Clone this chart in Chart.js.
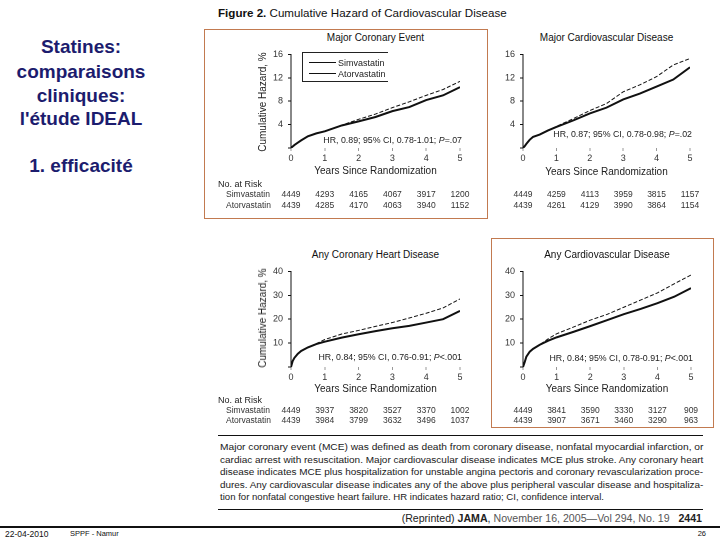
<!DOCTYPE html>
<html><head><meta charset="utf-8">
<script src="https://cdn.jsdelivr.net/npm/chart.js@4.4.1/dist/chart.umd.min.js"></script>
<style>
html,body{margin:0;padding:0;background:#fff;}
body{width:720px;height:540px;position:relative;overflow:hidden;font-family:"Liberation Sans",Arial,sans-serif;color:#222;}
.t{position:absolute;white-space:nowrap;line-height:1;}
canvas{position:absolute;}
.box{position:absolute;border:1.5px solid #c27a50;box-sizing:border-box;}
.rule{position:absolute;background:#111;}
</style></head><body>
<script>
// ---------- data ----------
const years = [0,0.05,0.1,0.2,0.3,0.5,0.75,1,1.5,2,2.5,3,3.5,4,4.5,5];
const xTicks = [0,1,2,3,4,5];

const mceSim  = [0,0.25,0.5,0.9,1.3,2.0,2.5,2.9,3.9,4.9,5.8,6.9,7.9,9.0,10.0,11.4];
const mceAtor = [0,0.25,0.5,0.9,1.3,2.0,2.5,2.85,3.85,4.55,5.3,6.3,7.0,8.2,9.0,10.4];

const mcvdSim  = [0,0.3,0.7,1.4,1.9,2.3,3.0,3.7,5.0,6.4,7.6,9.6,10.8,12.2,14.2,15.3];
const mcvdAtor = [0,0.3,0.7,1.4,1.9,2.3,3.0,3.6,4.7,5.9,6.9,8.3,9.3,10.5,11.7,13.8];

const chdSim  = [0,2.5,3.8,5.5,6.7,8.2,9.8,11.5,13.8,15.3,17.0,18.6,20.5,22.5,24.7,28.5];
const chdAtor = [0,2.5,3.8,5.5,6.7,8.2,9.6,10.6,12.3,13.7,15.0,16.2,17.2,18.6,20.0,23.5];

const cvdSim  = [0,2.0,4.3,6.4,7.6,9.4,11.8,13.9,16.7,19.6,22.0,25.0,28.0,31.0,34.8,38.5];
const cvdAtor = [0,2.0,4.3,6.4,7.6,9.3,11.0,12.4,14.7,17.1,19.6,22.1,24.3,26.7,29.4,33.0];

const riskMceSim   = [4449,4293,4165,4067,3917,1200];
const riskMceAtor  = [4439,4285,4170,4063,3940,1152];
const riskMcvdSim  = [4449,4259,4113,3959,3815,1157];
const riskMcvdAtor = [4439,4261,4129,3990,3864,1154];
const riskChdSim   = [4449,3937,3820,3527,3370,1002];
const riskChdAtor  = [4439,3984,3799,3632,3496,1037];
const riskCvdSim   = [4449,3841,3590,3330,3127,909];
const riskCvdAtor  = [4439,3907,3671,3460,3290,963];

const seriesNames = ["Simvastatin","Atorvastatin"];

// ---------- helpers ----------
function txt(s,x,y,o={}){
  const d=document.createElement('div');d.className='t';d.innerHTML=s;
  d.style.left=x+'px';d.style.top=y+'px';d.style.fontSize=(o.size||9)+'px';
  if(o.bold)d.style.fontWeight='bold';
  if(o.color)d.style.color=o.color;
  if(o.font)d.style.fontFamily=o.font;
  const ax=o.align==='left'?'0':o.align==='right'?'-100%':'-50%';
  d.style.transform='translate('+ax+',-50%)'+(o.rot?' rotate('+o.rot+'deg)':'');
  document.body.appendChild(d);return d;
}
function box(l,t,w,h){const d=document.createElement('div');d.className='box';
  d.style.left=l+'px';d.style.top=t+'px';d.style.width=w+'px';d.style.height=h+'px';document.body.appendChild(d);}
function rule(l,t,w,h){const d=document.createElement('div');d.className='rule';
  d.style.left=l+'px';d.style.top=t+'px';d.style.width=w+'px';d.style.height=h+'px';document.body.appendChild(d);}
const pts=(ys)=>years.map((x,i)=>({x:x,y:ys[i]}));

function makeChart(left,top,w,h,yMax,yStep,sim,ator){
  const c=document.createElement('canvas');
  c.width=w;c.height=h;c.style.left=left+'px';c.style.top=top+'px';
  c.style.width=w+'px';c.style.height=h+'px';
  document.body.appendChild(c);
  const tickFont={family:'"Liberation Sans", Arial, sans-serif',size:9};
  return new Chart(c,{
    type:'line',
    data:{datasets:[
      {label:seriesNames[0],data:pts(sim),borderColor:'#111',borderWidth:1,borderDash:[4,2],pointRadius:0,tension:0,fill:false},
      {label:seriesNames[1],data:pts(ator),borderColor:'#111',borderWidth:2,pointRadius:0,tension:0,fill:false}
    ]},
    options:{
      responsive:false,animation:false,devicePixelRatio:2,
      layout:{padding:{left:0,top:10,right:12,bottom:0}},
      plugins:{legend:{display:false},tooltip:{enabled:false},title:{display:false}},
      scales:{
        x:{type:'linear',min:0,max:5,
          afterBuildTicks:(s)=>{s.ticks=xTicks.map(v=>({value:v}));},
          ticks:{font:tickFont,color:'#333',padding:2,maxRotation:0,autoSkip:false},
          grid:{display:true,drawOnChartArea:false,drawTicks:true,tickLength:3,color:'#999'},
          border:{display:false},
          afterFit:(s)=>{s.height=20;}
        },
        y:{min:0,max:yMax,
          ticks:{stepSize:yStep,font:tickFont,color:'#333',padding:5,callback:(v)=>v===0?'':v},
          grid:{display:true,drawOnChartArea:false,drawTicks:true,tickLength:3,color:'#111'},
          border:{display:true,color:'#111',width:1},
          afterFit:(s)=>{s.width=41;}
        }
      }
    }
  });
}

// ---------- left slide text ----------
const navy='#1c1c6e';
[["Statines:",46],["comparaisons",71],["cliniques:",95],["l'étude IDEAL",118],["1. efficacité",165]].forEach(([s,y])=>{
  txt(s,81,y,{size:19,bold:true,color:navy,font:'"Liberation Sans", Arial, sans-serif'});
});

// ---------- figure title ----------
txt('<b>Figure 2.</b> Cumulative Hazard of Cardiovascular Disease',218,13,{size:11.6,align:'left',color:'#111'});

// ---------- boxes ----------
box(204,29,284,190);
box(491,238,223,190);

// ---------- charts ----------
const charts=[
  {l:250,t:44,w:222,h:124,max:16,step:4,sim:mceSim,ator:mceAtor,title:'Major Coronary Event',titleY:38,
   hr:'HR, 0.89; 95% CI, 0.78-1.01; <i>P</i>=.07',hrY:140,xtY:171,riskS:riskMceSim,riskA:riskMceAtor,rowY:[184,194,205],labels:true,ytitleY:102},
  {l:482,t:44,w:220,h:124,max:16,step:4,sim:mcvdSim,ator:mcvdAtor,title:'Major Cardiovascular Disease',titleY:38,
   hr:'HR, 0.87; 95% CI, 0.78-0.98; <i>P</i>=.02',hrY:134,xtY:172,riskS:riskMcvdSim,riskA:riskMcvdAtor,rowY:[184,194,205],labels:false},
  {l:250,t:261,w:222,h:126,max:40,step:10,sim:chdSim,ator:chdAtor,title:'Any Coronary Heart Disease',titleY:255,
   hr:'HR, 0.84; 95% CI, 0.76-0.91; <i>P</i>&lt;.001',hrY:357,xtY:389,riskS:riskChdSim,riskA:riskChdAtor,rowY:[400,410,420],labels:true,ytitleY:318},
  {l:482,t:261,w:221,h:126,max:40,step:10,sim:cvdSim,ator:cvdAtor,title:'Any Cardiovascular Disease',titleY:255,
   hr:'HR, 0.84; 95% CI, 0.78-0.91; <i>P</i>&lt;.001',hrY:358,xtY:389,riskS:riskCvdSim,riskA:riskCvdAtor,rowY:[400,410,420],labels:false}
];
charts.forEach(cf=>{
  const ch=makeChart(cf.l,cf.t,cf.w,cf.h,cf.max,cf.step,cf.sim,cf.ator);
  const a=ch.chartArea;
  const cx=cf.l+(a.left+a.right)/2;
  txt(cf.title,cx,cf.titleY,{size:10,color:'#111'});
  txt('Years Since Randomization',cx,cf.xtY,{size:10,color:'#222'});
  txt(cf.hr,cf.l+a.right+2,cf.hrY,{size:8.8,align:'right',color:'#222'});
  xTicks.forEach((v,i)=>{
    const px=cf.l+ch.scales.x.getPixelForValue(v);
    txt(String(cf.riskS[i]),px,cf.rowY[1],{size:8.5,color:'#333'});
    txt(String(cf.riskA[i]),px,cf.rowY[2],{size:8.5,color:'#333'});
  });
  if(cf.labels){
    txt('No. at Risk',218,cf.rowY[0],{size:9,align:'left',color:'#222'});
    txt(seriesNames[0],226,cf.rowY[1],{size:8.5,align:'left',color:'#333'});
    txt(seriesNames[1],226,cf.rowY[2],{size:8.5,align:'left',color:'#333'});
    txt('Cumulative Hazard, %',263,cf.ytitleY,{size:10,rot:-90,color:'#222'});
  }
});

// ---------- legend (chart 1) ----------
(function(){
  const d=document.createElement('div');
  d.style.cssText='position:absolute;left:302px;top:52px;width:86px;height:30px;border:1px solid #222;border-right:none;box-sizing:border-box;background:#fff;';
  document.body.appendChild(d);
  const l1=document.createElement('div');l1.style.cssText='position:absolute;left:309px;top:62px;width:27px;height:0;border-top:1px solid #111;';
  const l2=document.createElement('div');l2.style.cssText='position:absolute;left:309px;top:73px;width:27px;height:0;border-top:1.5px solid #111;';
  document.body.appendChild(l1);document.body.appendChild(l2);
  txt(seriesNames[0],338,63,{size:9,align:'left',color:'#222'});
  txt(seriesNames[1],338,74,{size:9,align:'left',color:'#222'});
})();

// ---------- caption ----------
rule(218,435,485,1);
const capLines=[
 'Major coronary event (MCE) was defined as death from coronary disease, nonfatal myocardial infarction, or',
 'cardiac arrest with resuscitation. Major cardiovascular disease indicates MCE plus stroke. Any coronary heart',
 'disease indicates MCE plus hospitalization for unstable angina pectoris and coronary revascularization proce-',
 'dures. Any cardiovascular disease indicates any of the above plus peripheral vascular disease and hospitaliza-',
 'tion for nonfatal congestive heart failure. HR indicates hazard ratio; CI, confidence interval.'
];
const capY=[447,459.5,472,484.5,497];
capLines.forEach((s,i)=>{
  const d=txt(s,220,capY[i],{size:9.6,align:'left',color:'#1a1a1a'});
  d.style.transformOrigin='0 50%';
  if(i<4){const w=d.offsetWidth;d.style.transform='translate(0,-50%) scaleX('+(483/w)+')';}
});
rule(218,509,485,1);
txt('(Reprinted) <b style="font-weight:600">JAMA</b>, <span style="color:#555">November 16, 2005—Vol 294, No. 19</span>&nbsp;&nbsp;&nbsp;<b>2441</b>',702,518,{size:10.6,align:'right',color:'#222'});

// ---------- slide footer ----------
rule(0,526,720,2);
txt('22-04-2010',5,534,{size:8.5,align:'left',color:'#111'});
txt('SPPF - Namur',70,534,{size:7.5,align:'left',color:'#111'});
txt('26',706,534,{size:7.5,align:'right',color:'#111'});
</script>
</body></html>
